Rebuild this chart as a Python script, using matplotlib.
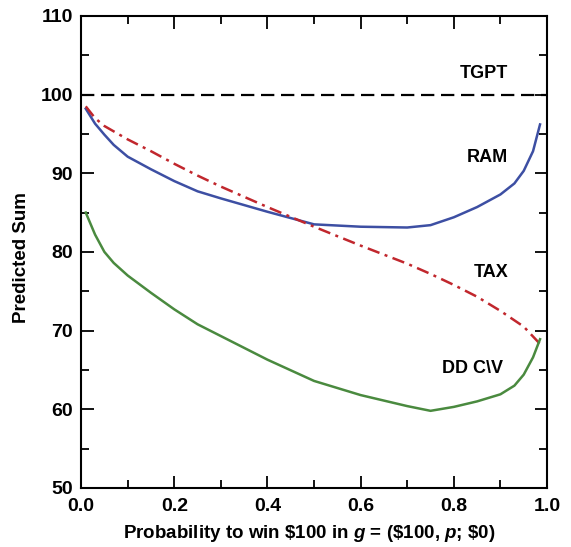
import matplotlib
matplotlib.use("Agg")
import matplotlib.pyplot as plt
from matplotlib.ticker import MultipleLocator

# values
ram_x = [0.01, 0.03, 0.05, 0.07, 0.1, 0.15, 0.2, 0.25, 0.3, 0.4, 0.5, 0.6,
         0.7, 0.75, 0.8, 0.85, 0.9, 0.93, 0.95, 0.97, 0.985]
ram_y = [98.2, 96.3, 94.9, 93.6, 92.1, 90.5, 89.0, 87.7, 86.8, 85.1, 83.5,
         83.2, 83.1, 83.4, 84.4, 85.7, 87.3, 88.7, 90.3, 92.8, 96.2]

tax_x = [0.01, 0.03, 0.05, 0.1, 0.15, 0.2, 0.25, 0.3, 0.4, 0.5, 0.6, 0.7,
         0.75, 0.8, 0.85, 0.9, 0.95, 0.985]
tax_y = [98.5, 97.0, 96.0, 94.3, 92.8, 91.2, 89.7, 88.3, 85.7, 83.2, 80.8,
         78.5, 77.2, 75.8, 74.3, 72.5, 70.5, 68.3]

dd_x = [0.01, 0.03, 0.05, 0.07, 0.1, 0.15, 0.2, 0.25, 0.3, 0.4, 0.5, 0.6,
        0.7, 0.75, 0.8, 0.85, 0.9, 0.93, 0.95, 0.97, 0.985]
dd_y = [85.0, 82.2, 80.0, 78.6, 77.0, 74.8, 72.7, 70.8, 69.3, 66.3, 63.6,
        61.8, 60.4, 59.8, 60.3, 61.0, 61.9, 63.0, 64.4, 66.6, 68.9]

tgpt_level = 100

labels = ["TGPT", "RAM", "TAX", "DD C\\V"]
label_pos = [(0.865, 102.7), (0.873, 92.0), (0.88, 77.4), (0.84, 65.2)]

plt.rcParams['font.family'] = ['Liberation Sans', 'DejaVu Sans']
plt.rcParams['font.weight'] = 'bold'
plt.rcParams['mathtext.fontset'] = 'custom'
plt.rcParams['mathtext.it'] = 'Liberation Sans:italic:bold'
plt.rcParams['mathtext.rm'] = 'Liberation Sans:bold'

fig = plt.figure(figsize=(5.71, 5.47), dpi=100)
ax = fig.add_axes([0.142, 0.108, 0.816, 0.863])

ax.axhline(tgpt_level, color='black', lw=1.6, dashes=(6, 3))
ax.plot(ram_x, ram_y, color='#3d4fa3', lw=1.8)
ax.plot(tax_x, tax_y, color='#c1272d', lw=1.8, dashes=(5, 2.2, 1.2, 2.2))
ax.plot(dd_x, dd_y, color='#4a8a3f', lw=1.8)

for txt, (tx, ty) in zip(labels, label_pos):
    ax.text(tx, ty, txt, ha='center', va='center', fontsize=13,
            fontweight='bold')

ax.set_xlim(0, 1)
ax.set_ylim(50, 110)
ax.xaxis.set_major_locator(MultipleLocator(0.2))
ax.xaxis.set_minor_locator(MultipleLocator(0.1))
ax.yaxis.set_major_locator(MultipleLocator(10))
ax.yaxis.set_minor_locator(MultipleLocator(5))
ax.xaxis.set_major_formatter(plt.FormatStrFormatter('%.1f'))
ax.tick_params(which='both', direction='in', top=True, right=True,
               width=1.3, labelsize=14)
ax.tick_params(which='major', length=9)
ax.tick_params(which='minor', length=6)
ax.tick_params(axis='x', which='major', pad=7)
ax.tick_params(axis='y', which='major', pad=6)
for s in ax.spines.values():
    s.set_linewidth(1.5)
for lab in ax.get_xticklabels() + ax.get_yticklabels():
    lab.set_fontweight('bold')

ax.set_xlabel(r"Probability to win \$100 in $g$ = (\$100, $p$; \$0)",
              fontsize=13.5, fontweight='bold')
ax.set_ylabel("Predicted Sum", fontsize=13.5, fontweight='bold')
ax.xaxis.set_label_coords(0.49, -0.075)
ax.yaxis.set_label_coords(-0.11, 0.489)

fig.savefig("out.png", dpi=100)
